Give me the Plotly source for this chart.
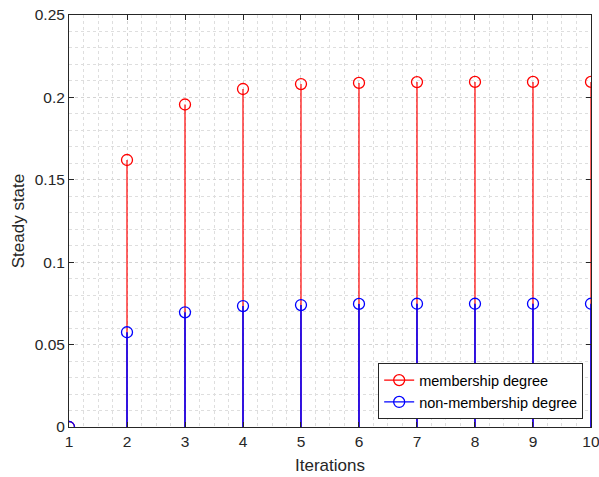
import plotly.graph_objects as go

iterations = [1, 2, 3, 4, 5, 6, 7, 8, 9, 10]
membership = [0.0, 0.162, 0.1957, 0.2051, 0.2081, 0.2088, 0.2093, 0.2094, 0.2094, 0.2094]
non_membership = [0.0, 0.0575, 0.0696, 0.0734, 0.0740, 0.0747, 0.0748, 0.0748, 0.0748, 0.0748]
x_ticks = [1, 2, 3, 4, 5, 6, 7, 8, 9, 10]
y_ticks = [0, 0.05, 0.1, 0.15, 0.2, 0.25]
y_tick_labels = ["0", "0.05", "0.1", "0.15", "0.2", "0.25"]

series = [
    ("membership degree", membership, "#ff0000", 1.2),
    ("non-membership degree", non_membership, "#0000ff", 1.6),
]

FONT = "Liberation Sans, Arial"
TXT = "#262626"

fig = go.Figure()
for name, vals, col, sw in series:
    sx, sy = [], []
    for xi, yi in zip(iterations, vals):
        sx += [xi, xi, None]
        sy += [0, yi, None]
    fig.add_trace(go.Scatter(x=sx, y=sy, mode="lines", line=dict(color=col, width=sw),
                             showlegend=False, hoverinfo="skip"))
    mx, my = [], []
    for xi, yi in zip(iterations, vals):
        mx += [xi, None]
        my += [yi, None]
    fig.add_trace(go.Scatter(x=mx, y=my, mode="lines+markers", name=name,
                             connectgaps=False,
                             line=dict(color=col, width=1.2),
                             marker=dict(symbol="circle-open", size=11, color=col,
                                         line=dict(width=1.3, color=col))))

axis_common = dict(
    showline=True, linecolor=TXT, linewidth=1, mirror="ticks",
    ticks="inside", ticklen=5, tickcolor=TXT,
    showgrid=True, gridcolor="#d4d4d4", griddash="dot", gridwidth=1,
    zeroline=False, automargin=False,
    ticklabeloverflow="allow",
    tickfont=dict(family=FONT, size=15.5, color=TXT),
)

fig.update_xaxes(range=[1, 10.0002], tickvals=x_ticks,
                 minor=dict(dtick=0.25, showgrid=True, gridcolor="#dedede", griddash="dot", ticks=""),
                 title=dict(text="Iterations", font=dict(family=FONT, size=17, color=TXT), standoff=10),
                 **axis_common)
fig.update_yaxes(range=[0, 0.25], tickvals=y_ticks, ticktext=y_tick_labels,
                 minor=dict(dtick=0.01, showgrid=True, gridcolor="#dedede", griddash="dot", ticks=""),
                 title=dict(text="Steady state", font=dict(family=FONT, size=17, color=TXT), standoff=5),
                 **axis_common)

fig.update_layout(
    width=599, height=477,
    margin=dict(l=69, r=8, t=15, b=50),
    plot_bgcolor="white", paper_bgcolor="white",
    legend=dict(x=0.985, y=0.019, xanchor="right", yanchor="bottom",
                bgcolor="white", bordercolor=TXT, borderwidth=1,
                font=dict(family=FONT, size=14.5, color="#000000"),
                tracegroupgap=0, itemwidth=30),
    showlegend=True,
)

fig.write_html("out.html")
